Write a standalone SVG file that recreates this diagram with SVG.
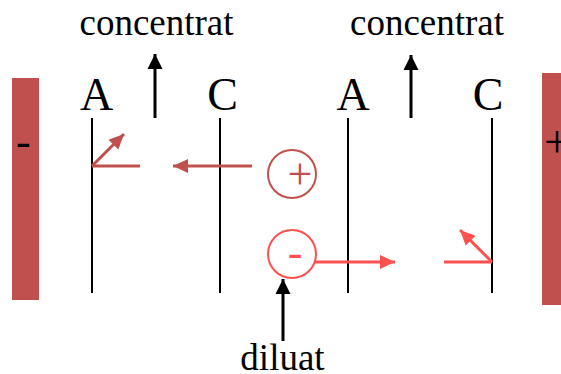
<svg xmlns="http://www.w3.org/2000/svg" width="561" height="374" viewBox="0 0 561 374">
<style>
.lbl{font-family:"Liberation Serif","Times New Roman",serif;fill:#000}
.big{font-size:46px}
.mid{font-size:37px}
.mem{stroke:#000;stroke-width:2;fill:none}
.dk{stroke:#c0504d;stroke-width:3;fill:none}
.lt{stroke:#ff5050;stroke-width:3;fill:none}
.blk{stroke:#000;stroke-width:3;fill:none}
</style>
<defs>
<marker id="hb" markerUnits="userSpaceOnUse" markerWidth="16" markerHeight="16" refX="15" refY="8" orient="auto"><path d="M0,0.5 L15,8 L0,15.5 Z" fill="#000"/></marker>
<marker id="hd" markerUnits="userSpaceOnUse" markerWidth="16" markerHeight="16" refX="15" refY="8" orient="auto"><path d="M0,1 L15,8 L0,15 Z" fill="#c0504d"/></marker>
<marker id="hl" markerUnits="userSpaceOnUse" markerWidth="16" markerHeight="16" refX="15" refY="8" orient="auto"><path d="M0,1 L15,8 L0,15 Z" fill="#ff5050"/></marker>
</defs>
<g id="cathode">
<rect x="12" y="78" width="27" height="222" fill="#c0504d"/>
<text class="lbl" x="16" y="156" font-size="44">-</text>
</g>
<g id="anode">
<rect x="542" y="73" width="20" height="232" fill="#c0504d"/>
<text class="lbl" x="557" y="157" font-size="46" text-anchor="middle">+</text>
</g>
<g id="membrane-a1"><line class="mem" x1="92" y1="118" x2="92" y2="293"/><text class="lbl big" x="96.5" y="110" text-anchor="middle">A</text></g>
<g id="membrane-c1"><line class="mem" x1="220" y1="118" x2="220" y2="293"/><text class="lbl big" x="222.5" y="110" text-anchor="middle">C</text></g>
<g id="membrane-a2"><line class="mem" x1="348" y1="118" x2="348" y2="293"/><text class="lbl big" x="353" y="110" text-anchor="middle">A</text></g>
<g id="membrane-c2"><line class="mem" x1="492" y1="118" x2="492" y2="293"/><text class="lbl big" x="488" y="110" text-anchor="middle">C</text></g>
<g id="concentrat1"><text class="lbl mid" x="156.5" y="35" text-anchor="middle">concentrat</text></g>
<g id="concentrat2"><text class="lbl mid" x="427" y="35" text-anchor="middle">concentrat</text></g>
<g id="diluat"><text class="lbl mid" x="282.5" y="370" text-anchor="middle">diluat</text></g>
<g id="cation">
<circle cx="292" cy="174" r="24" fill="none" stroke="#c0504d" stroke-width="2"/>
<text x="300" y="189" font-size="44" text-anchor="middle" fill="#c0504d" font-family="Liberation Serif,serif">+</text>
</g>
<g id="anion">
<circle cx="292" cy="254" r="24" fill="none" stroke="#ff5050" stroke-width="2"/>
<text x="295" y="267" font-size="44" text-anchor="middle" fill="#ff5050" font-family="Liberation Serif,serif">-</text>
</g>
<g id="connectors">
<line class="blk" x1="155" y1="118" x2="155" y2="54" marker-end="url(#hb)"/>
<line class="blk" x1="411" y1="118" x2="411" y2="55" marker-end="url(#hb)"/>
<line class="blk" x1="283" y1="341" x2="283" y2="279" marker-end="url(#hb)"/>
<line class="dk" x1="252" y1="166" x2="173" y2="166" marker-end="url(#hd)"/>
<line class="dk" x1="92" y1="166" x2="140" y2="166"/>
<line class="dk" x1="92" y1="166" x2="124" y2="134" marker-end="url(#hd)"/>
<line class="lt" x1="315" y1="262" x2="395" y2="262" marker-end="url(#hl)"/>
<line class="lt" x1="444" y1="262" x2="492" y2="262"/>
<line class="lt" x1="492" y1="262" x2="460" y2="230" marker-end="url(#hl)"/>
</g>
</svg>
